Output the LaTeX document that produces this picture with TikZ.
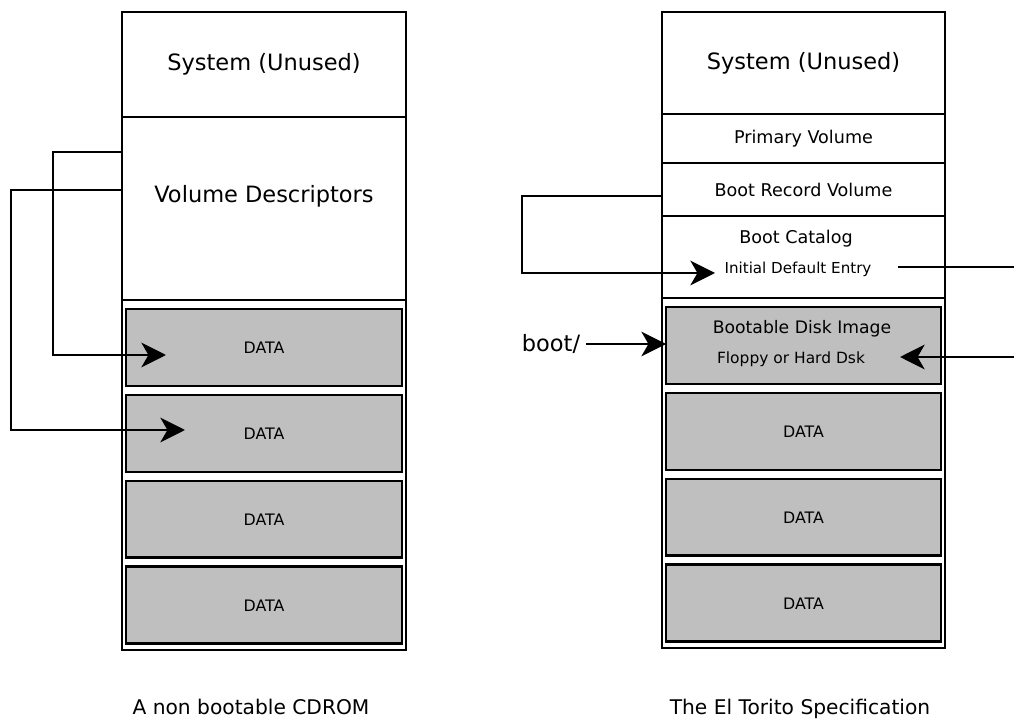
\documentclass[tikz,border=0pt]{standalone}
\usepackage{fontspec}
\setmainfont{DejaVu Sans}
\usetikzlibrary{arrows.meta,shapes,calc,positioning}

\begin{document}
\begin{tikzpicture}[x=0.02cm, y=-0.02cm, node distance=1.72cm,
  sect/.style={rectangle, draw, line width=1.4pt, inner sep=0pt, outer sep=0pt},
  datbox/.style={rectangle, draw, line width=1.6pt, fill=black!25, minimum width=5.52cm, minimum height=1.54cm, inner sep=0pt, outer sep=0pt, font=\fontsize{9}{11}\selectfont},
  conn/.style={line width=1.6pt, -{Stealth[length=14pt, width=14pt, inset=4pt]}},
  big/.style={font=\fontsize{12.8}{15}\selectfont},
  small/.style={font=\fontsize{10}{12}\selectfont},
  tiny/.style={font=\fontsize{8.6}{10}\selectfont},
  caption/.style={font=\fontsize{11.5}{14}\selectfont}]

    \useasboundingbox (0,0) rectangle (1014,722);

    % non bootable disc
    \node[sect, big, minimum width=5.68cm, minimum height=2.1cm] (sysL) at (264,64.5) {System (Unused)};
    \node[sect, minimum width=5.68cm, minimum height=3.66cm, below of=sysL, node distance=2.88cm] (vdL) {};
    \node[big] (vdtxt) at ([yshift=-1.58cm]vdL.north) {Volume Descriptors};
    \node[sect, minimum width=5.68cm, minimum height=7cm, below of=vdL, node distance=5.33cm] (dcL) {};
    \node[datbox] (dL1) at ([yshift=-0.95cm]dcL.north) {DATA};
    \node[datbox, below of=dL1] (dL2) {DATA};
    \node[datbox, below of=dL2] (dL3) {DATA};
    \node[datbox, below of=dL3] (dL4) {DATA};
    \node[caption] (capL) at (251,707) {A non bootable CDROM};

    \coordinate (vdA) at (122,152);
    \coordinate (vdB) at (122,190);
    \coordinate (tipA) at (166,355);
    \coordinate (tipB) at (185,430);
    \draw[conn] (vdA) -- ++(-69,0) |- (tipA);
    \draw[conn] (vdB) -- ++(-111,0) |- (tipB);

    % el torito disc
    \node[sect, big, minimum width=5.66cm, minimum height=2.04cm] (sysR) at (803.5,63) {System (Unused)};
    \node[sect, small, minimum width=5.66cm, minimum height=0.98cm, below of=sysR, node distance=1.51cm] (pvR) {Primary Volume};
    \node[sect, small, minimum width=5.66cm, minimum height=1.06cm, below of=pvR, node distance=1.02cm] (brR) {Boot Record Volume};
    \node[sect, minimum width=5.66cm, minimum height=1.64cm, below of=brR, node distance=1.35cm] (bcR) {};
    \node[small] (bcat) at (796,239) {Boot Catalog};
    \node[tiny] (ide) at (798,269) {Initial Default Entry};
    \node[sect, minimum width=5.66cm, minimum height=7cm, below of=bcR, node distance=4.32cm] (dcR) {};
    \node[datbox, minimum width=5.5cm] (bootR) at ([yshift=-0.95cm]dcR.north) {};
    \node[font=\fontsize{9.8}{11}\selectfont] (bdi) at (802,329) {Bootable Disk Image};
    \node[font=\fontsize{8.8}{10}\selectfont] (fhd) at (791,359) {Floppy or Hard Dsk};
    \node[datbox, minimum width=5.5cm, below of=bootR] (dR1) {DATA};
    \node[datbox, minimum width=5.5cm, below of=dR1] (dR2) {DATA};
    \node[datbox, minimum width=5.5cm, below of=dR2] (dR3) {DATA};
    \node[caption] (capR) at (800,709) {The El Torito Specification};

    \node[big] (bootlbl) at (551,344) {boot/};
    \draw[conn] (bootlbl.east) -- (bootR.west |- bootlbl.east);

    \coordinate (brA) at (662,196);
    \coordinate (tipC) at (715,273);
    \draw[conn] (brA) -- ++(-140,0) |- (tipC);
    \coordinate (ideR) at (898,267);
    \coordinate (edgeC) at (1014,267);
    \draw[line width=1.6pt] (ideR) -- (edgeC);
    \coordinate (edgeD) at (1014,357);
    \coordinate (tipD) at (900,357);
    \draw[conn] (edgeD) -- (tipD);

\end{tikzpicture}
\end{document}
